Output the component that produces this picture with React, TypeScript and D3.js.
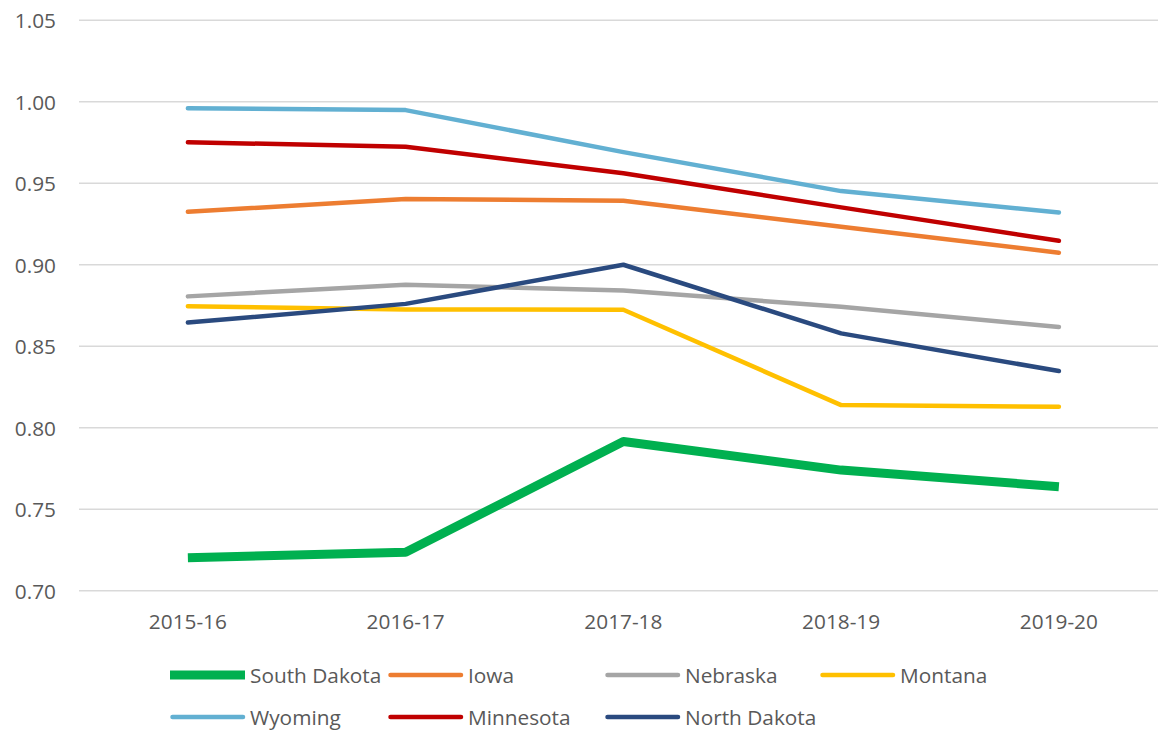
import React from "react";
import * as d3 from "d3";

const categories = ["2015-16", "2016-17", "2017-18", "2018-19", "2019-20"];

const southDakota = [0.7202, 0.7236, 0.7915, 0.774, 0.7638];
const iowa = [0.9325, 0.9403, 0.9393, 0.9233, 0.9074];
const nebraska = [0.8806, 0.8877, 0.8842, 0.8742, 0.8618];
const montana = [0.8746, 0.8726, 0.8724, 0.8139, 0.8129];
const wyoming = [0.996, 0.9949, 0.9691, 0.9452, 0.9321];
const minnesota = [0.9752, 0.9724, 0.9561, 0.9352, 0.9147];
const northDakota = [0.8645, 0.876, 0.9, 0.8579, 0.8348];

const yTicks = [0.7, 0.75, 0.8, 0.85, 0.9, 0.95, 1.0, 1.05];

const seriesNames = ["South Dakota", "Iowa", "Nebraska", "Montana", "Wyoming", "Minnesota", "North Dakota"];
const seriesValues = [southDakota, iowa, nebraska, montana, wyoming, minnesota, northDakota];
const seriesColors = ["#00B050", "#ED7D31", "#A5A5A5", "#FFC000", "#62B0D2", "#C00000", "#2A4A7F"];
const seriesWidths = [9, 4.5, 4.5, 4.5, 4.5, 4.5, 4.5];

const FONT = "'Open Sans', 'Noto Sans', sans-serif";
const TEXT = "#595959";
const FS = 20.8;

export default function App() {
  const W = 1158;
  const H = 732;
  const x = d3.scaleBand<string>().domain(categories).range([79, 79 + 5 * 217.75]).padding(0);
  const cx = (c: string) => (x(c) as number) + x.bandwidth() / 2;
  const y = d3.scaleLinear().domain([0.7, 1.05]).range([590.7, 20.3]);

  const line = d3
    .line<number>()
    .x((_, i) => cx(categories[i]))
    .y((d) => y(d));

  const legendCols = [170, 388, 605, 820];
  const legendRows = [675, 717];

  return (
    <svg
      width={W}
      height={H}
      style={{ position: "absolute", left: 0, top: 0, background: "#fff" }}
      fontFamily={FONT}
    >
      <rect x={0} y={0} width={W} height={H} fill="#fff" />
      {yTicks.map((t) => (
        <g key={t}>
          <line x1={79} x2={W} y1={y(t)} y2={y(t)} stroke="#D9D9D9" strokeWidth={1.5} />
          <text
            x={56}
            y={y(t)}
            textAnchor="end"
            dominantBaseline="central"
            fontSize={FS}
            fill={TEXT}
          >
            {t.toFixed(2)}
          </text>
        </g>
      ))}
      {categories.map((c) => (
        <text key={c} x={cx(c)} y={621} textAnchor="middle" dominantBaseline="central" fontSize={FS} fill={TEXT}>
          {c}
        </text>
      ))}
      {seriesValues.map((vals, i) => (
        <path
          key={seriesNames[i]}
          d={line(vals) || ""}
          fill="none"
          stroke={seriesColors[i]}
          strokeWidth={seriesWidths[i]}
          strokeLinecap={i === 0 ? "butt" : "round"}
          strokeLinejoin="round"
        />
      ))}
      {seriesNames.map((name, i) => {
        const col = legendCols[i % 4];
        const row = legendRows[Math.floor(i / 4)];
        const round = i !== 0;
        return (
          <g key={name}>
            <line
              x1={round ? col + 2.5 : col}
              x2={round ? col + 73 : col + 75}
              y1={row}
              y2={row}
              stroke={seriesColors[i]}
              strokeWidth={seriesWidths[i]}
              strokeLinecap={round ? "round" : "butt"}
            />
            <text x={col + 80} y={row} dominantBaseline="central" fontSize={FS} fill={TEXT}>
              {name}
            </text>
          </g>
        );
      })}
    </svg>
  );
}
